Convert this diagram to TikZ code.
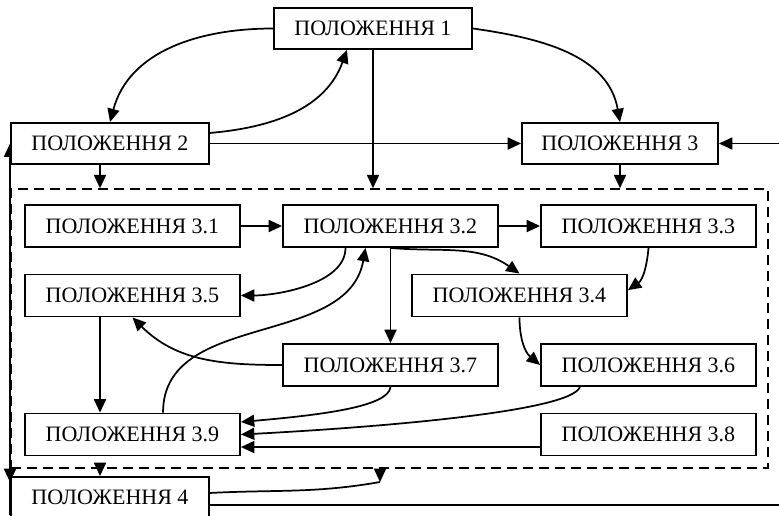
\documentclass[tikz,border=0pt]{standalone}
\usepackage{fontspec}
\setmainfont{Liberation Serif}
\usetikzlibrary{arrows.meta,fit,backgrounds}

\begin{document}
\begin{tikzpicture}[x=0.75pt, y=-0.75pt,
    every node/.style={font=\fontsize{16.5}{19}\selectfont},
    box/.style={draw, line width=1.4pt, fill=white, inner sep=0pt,
      minimum width=161.25pt, minimum height=31.5pt},
    outer/.style={box, minimum width=148.5pt, minimum height=30.75pt},
    grpbox/.style={draw, line width=1.1pt, dash pattern=on 7.5pt off 4.5pt, inner sep=0pt},
    arr/.style={-{Triangle[length=10pt,width=9pt]}, line width=1.3pt},
    link/.style={line width=1.3pt}]
  \useasboundingbox (0,0) rectangle (779,515);
  \coordinate (colA) at (100,0);
  \coordinate (lft) at (10,515);
  \coordinate (rgt) at (779,0);
  \coordinate (c4) at (380,482);

  \node[outer] (s1) at (373,28.5) {ПОЛОЖЕННЯ 1};
  \node[outer] (s2) at (110,143.5) {ПОЛОЖЕННЯ 2};
  \node[outer, minimum width=147pt] (s3) at (620,143.5) {ПОЛОЖЕННЯ 3};
  \node[outer] (s4) at (110,497.5) {ПОЛОЖЕННЯ 4};

  \node[grpbox, fit={(11,189) (768,468)}] (grp) {};

  \matrix[column sep={96.75pt,between origins}, row sep={52.125pt,between origins}] at (390.5,330.25)
  {
    \node[box] (s31) {ПОЛОЖЕННЯ 3.1}; & & \node[box] (s32) {ПОЛОЖЕННЯ 3.2}; & & \node[box] (s33) {ПОЛОЖЕННЯ 3.3}; \\
    \node[box] (s35) {ПОЛОЖЕННЯ 3.5}; & & & \node[box] (s34) {ПОЛОЖЕННЯ 3.4}; & \\
    & & \node[box] (s37) {ПОЛОЖЕННЯ 3.7}; & & \node[box] (s36) {ПОЛОЖЕННЯ 3.6}; \\
    \node[box] (s39) {ПОЛОЖЕННЯ 3.9}; & & & & \node[box] (s38) {ПОЛОЖЕННЯ 3.8}; \\
  };

  % top level
  \draw[arr] (s1.west) to[out=180, in=75] (s2.north);
  \draw[arr] ([yshift=7.9pt]s2.east) to[out=5, in=-110] ([xshift=-19.5pt]s1.south);
  \draw[arr] (s1.east) to[out=-8, in=100] (s3.north);
  \draw[arr] (s1.south) -- (s1.south |- grp.north);
  \draw[arr] (s2.east) -- (s3.west);
  \draw[arr] (rgt |- s3.east) -- (s3.east);
  \draw[arr] (colA |- s2.south) -- (colA |- grp.north);
  \draw[arr] (s3.south) -- (s3.south |- grp.north);

  % inside the group
  \draw[arr] (s31) -- (s32);
  \draw[arr] (s32) -- (s33);
  \draw[arr] (s32.south) -- (s37.north);
  \draw[arr] (s32.south) to[out=-5, in=145] (s34.north);
  \draw[arr] ([xshift=-33.75pt]s32.south) to[out=-90, in=0, looseness=0.8] (s35.east);
  \draw[arr] ([xshift=22.9pt]s39.north) to[out=90, in=-100] ([xshift=-18.75pt]s32.south);
  \draw[arr] (s33.south) to[out=-95, in=35] ([yshift=4pt]s34.east);
  \draw[arr] (s34.south) to[out=-90, in=140] (s36.west);
  \draw[arr] (s37.west) to[out=180, in=-45] (s35.south);
  \draw[arr] (colA |- s35.south) -- (colA |- s39.north);
  \draw[arr] (s37.south) to[out=-95, in=5, out distance=15pt, in distance=60pt] ([yshift=9.4pt]s39.east);
  \draw[arr] ([xshift=-51.4pt]s36.south) to[out=-110, in=3, out distance=20pt, in distance=100pt] (s39.east);
  \draw[arr] ([yshift=-9.4pt]s38.west) -- ([yshift=-9.4pt]s39.east);

  % below the group
  \draw[arr] (colA |- grp.south) -- (colA |- s4.north);
  \draw[link] ([yshift=3.4pt]s4.east) to[out=3, in=190] (c4);
  \draw[arr] (grp.south -| c4) -- (c4);
  \draw[link] ([yshift=-5.6pt]s4.east) -- ([yshift=-5.6pt]s4.east -| rgt);
  \begin{scope}[on background layer]
    \draw[arr] (lft) -- (lft |- s2.west);
    \draw[arr] (lft |- grp.south) -- ([yshift=-4.5pt]lft |- s4.north);
  \end{scope}
\end{tikzpicture}
\end{document}
